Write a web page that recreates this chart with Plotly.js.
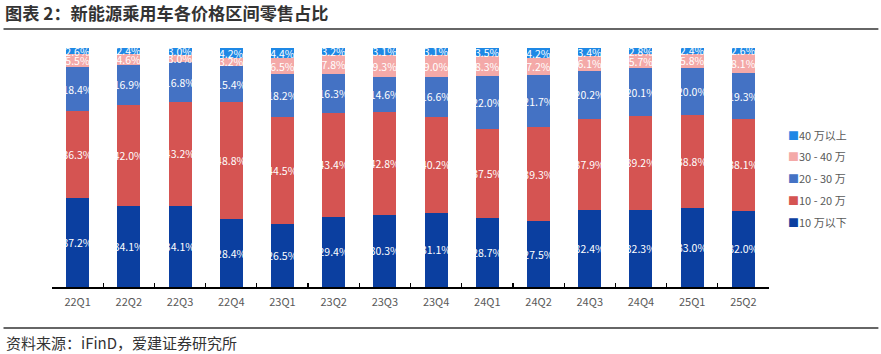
<!DOCTYPE html>
<html><head><meta charset="utf-8">
<script src="https://cdn.plot.ly/plotly-3.0.1.min.js"></script>
<style>html,body{margin:0;padding:0;background:#fff}#c{width:881px;height:354px}</style>
</head><body><div id="c"></div>
<script>
const categories = ["22Q1","22Q2","22Q3","22Q4","23Q1","23Q2","23Q3","23Q4","24Q1","24Q2","24Q3","24Q4","25Q1","25Q2"];
const seriesNames = ["10 万以下","10 - 20 万","20 - 30 万","30 - 40 万","40 万以上"];
const below10 = [37.2,34.1,34.1,28.4,26.5,29.4,30.3,31.1,28.7,27.5,32.4,32.3,33.0,32.0];
const from10to20 = [36.3,42.0,43.2,48.8,44.5,43.4,42.8,40.2,37.5,39.3,37.9,39.2,38.8,38.1];
const from20to30 = [18.4,16.9,16.8,15.4,18.2,16.3,14.6,16.6,22.0,21.7,20.2,20.1,20.0,19.3];
const from30to40 = [5.5,4.6,3.0,3.2,6.5,7.8,9.3,9.0,8.3,7.2,6.1,5.7,5.8,8.1];
const above40 = [2.6,2.4,3.0,4.2,4.4,3.2,3.1,3.1,3.5,4.2,3.4,2.8,2.4,2.6];
const colors = ["#0B3FA0","#D55452","#4472C4","#F4A9A8","#1E88E5"];
const allSeries = [below10, from10to20, from20to30, from30to40, above40];

const font = "'Noto Sans CJK SC','Noto Sans',sans-serif";
const traces = allSeries.map((vals, i) => ({
  type: "bar",
  name: seriesNames[i],
  x: categories,
  y: vals,
  marker: {color: colors[i], line: {width: 0}},
  text: vals.map(v => v.toFixed(1) + "%"),
  textposition: "inside",
  insidetextanchor: "middle",
  textangle: 0,
  constraintext: "none",
  textfont: {color: "#ffffff", size: 10.5, family: font},
  showlegend: false,
  hoverinfo: "skip"
}));

const L = 51.5, R = 768.6, T = 48, B = 287;
const W = R - L, H = B - T;
const px = x => (x - L) / W;
const py = y => (B - y) / H;

// custom legend (top = last series)
const legendY = [222, 200, 178, 156, 135];
const legendAnn = seriesNames.map((n, i) => ({
  text: "<span style='color:" + colors[i] + "'>■</span>" + n,
  xref: "paper", yref: "paper", x: px(786), xanchor: "left", y: py(legendY[i]), yanchor: "middle",
  showarrow: false, font: {size: 11, color: "#595959", family: font}
}));

const layout = {
  width: 881, height: 354,
  margin: {l: L, r: 881 - R, t: T, b: 354 - B},
  paper_bgcolor: "#fff", plot_bgcolor: "#fff",
  barmode: "stack",
  bargap: 0.55,
  showlegend: false,
  font: {family: font, color: "#595959"},
  title: {text: "图表 2：新能源乘用车各价格区间零售占比", xref: "container", x: 5/881, xanchor: "left",
          yref: "container", y: 1 - 14/354, yanchor: "middle",
          font: {size: 17.2, color: "#333333", family: font, weight: "bold"}},
  xaxis: {type: "category", showline: true, linecolor: "#000", linewidth: 1.5,
          ticks: "inside", tickson: "boundaries", ticklen: 4, tickcolor: "#000", tickwidth: 1.2,
          ticklabelstandoff: 4,
          tickfont: {size: 11, color: "#595959"}, showgrid: false, zeroline: false, fixedrange: true},
  yaxis: {range: [0, 100], visible: false, showgrid: false, zeroline: false, fixedrange: true},
  shapes: [
    {type: "line", xref: "paper", yref: "paper", x0: px(3), x1: px(878), y0: py(29), y1: py(29), line: {color: "#666", width: 2}},
    {type: "line", xref: "paper", yref: "paper", x0: px(3), x1: px(878), y0: py(328), y1: py(328), line: {color: "#666", width: 2}}
  ],
  annotations: [
    {text: "资料来源：iFinD，爱建证券研究所", xref: "paper", yref: "paper", x: px(3), xanchor: "left",
     y: py(342), yanchor: "middle", showarrow: false, font: {size: 15, color: "#333", family: font}}
  ].concat(legendAnn)
};
Plotly.newPlot("c", traces, layout, {displayModeBar: false, staticPlot: true});
</script></body></html>
